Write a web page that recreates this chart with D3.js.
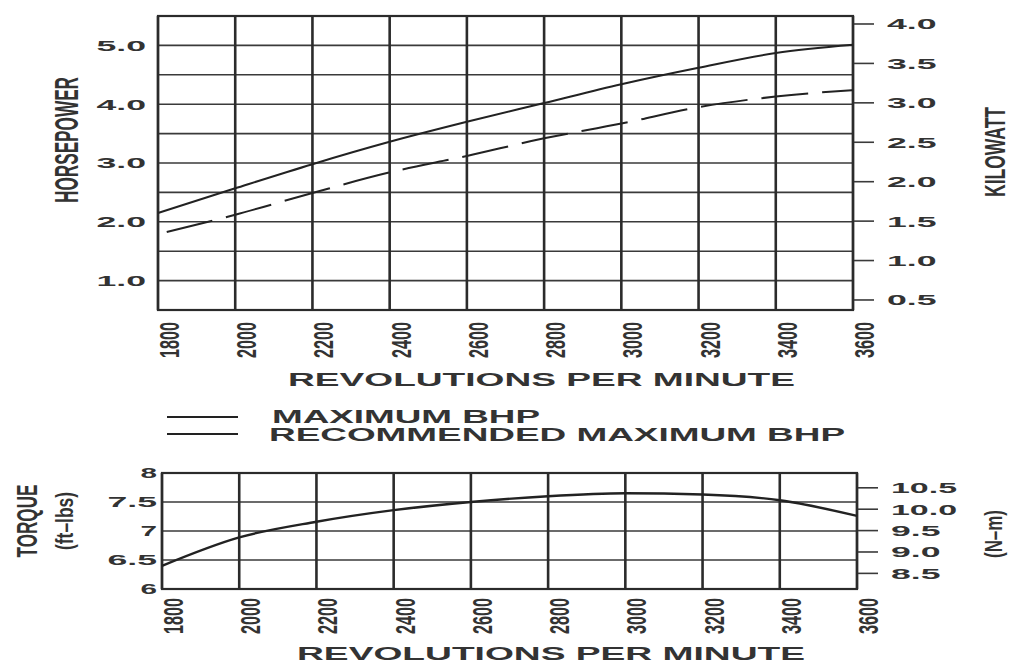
<!DOCTYPE html>
<html>
<head>
<meta charset="utf-8">
<script src="https://cdn.jsdelivr.net/npm/d3@7"></script>
<style>
    body { margin: 0; background: #fff; }
    svg { display: block; }
    text { font-family: "Liberation Sans", Arial, Helvetica, sans-serif; fill: #333; }
</style>
</head>
<body>
<svg id="chart" width="1015" height="664"></svg>
<script>
// values
const rpm = [1800, 2000, 2200, 2400, 2600, 2800, 3000, 3200, 3400, 3600]
const maxBhp = [2.15, 2.57, 2.98, 3.36, 3.70, 4.02, 4.34, 4.62, 4.87, 5.01]
const recBhp = [1.79, 2.12, 2.49, 2.84, 3.12, 3.42, 3.67, 3.95, 4.13, 4.24]
const torque = [6.40, 6.89, 7.16, 7.36, 7.50, 7.60, 7.65, 7.63, 7.53, 7.26]

const hpTicks = [1.0, 2.0, 3.0, 4.0, 5.0]
const hpGrid = [1.0, 1.5, 2.0, 2.5, 3.0, 3.5, 4.0, 4.5, 5.0]
const kwTicks = [0.5, 1.0, 1.5, 2.0, 2.5, 3.0, 3.5, 4.0]
const torqueTicks = [6, 6.5, 7, 7.5, 8]
const torqueGrid = [6.5, 7, 7.5]
const nmTicks = [8.5, 9.0, 9.5, 10.0, 10.5]
const legendLabels = ["MAXIMUM BHP", "RECOMMENDED MAXIMUM BHP"]

const KW_PER_HP = 0.7457
const NM_PER_FTLB = 1.3558

const ink = "#2b2b2b"
const svg = d3.select("#chart")

function drawPanel ({ x0, x1, y0, y1, yDomain, grid, leftTicks, leftFmt, leftRight,
                      rightTicks, rightToLeft, titleX, titleY, titleLen, labelTop }) {
    const x = d3.scaleLinear().domain([rpm[0], rpm[rpm.length - 1]]).range([x0, x1])
    const y = d3.scaleLinear().domain(yDomain).range([y1, y0])
    const g = svg.append("g")

    // horizontal grid
    g.selectAll(".hgrid").data(grid).enter().append("line")
        .attr("x1", x0).attr("x2", x1)
        .attr("y1", d => y(d)).attr("y2", d => y(d))
        .attr("stroke", "#3a3a3a").attr("stroke-width", 1.6)

    // vertical grid, heavier like the print
    g.selectAll(".vgrid").data(rpm).enter().append("line")
        .attr("x1", d => x(d)).attr("x2", d => x(d))
        .attr("y1", y0).attr("y2", y1)
        .attr("stroke", ink).attr("stroke-width", 2.6)

    g.append("rect")
        .attr("x", x0).attr("y", y0)
        .attr("width", x1 - x0).attr("height", y1 - y0)
        .attr("fill", "none").attr("stroke", ink).attr("stroke-width", 2.2)

    // left tick labels
    g.selectAll(".lt").data(leftTicks).enter().append("text")
        .attr("x", leftRight).attr("y", d => y(d))
        .attr("dy", "0.36em")
        .attr("text-anchor", "end")
        .style("font-size", "15px").style("font-weight", "bold")
        .attr("textLength", d => leftFmt(d).length * 16.5)
        .attr("lengthAdjust", "spacingAndGlyphs")
        .text(leftFmt)

    // right (metric) ticks and labels
    g.selectAll(".rtick").data(rightTicks).enter().append("line")
        .attr("x1", x1 + 1).attr("x2", x1 + 21)
        .attr("y1", d => y(rightToLeft(d))).attr("y2", d => y(rightToLeft(d)))
        .attr("stroke", "#3a3a3a").attr("stroke-width", 1.6)

    g.selectAll(".rt").data(rightTicks).enter().append("text")
        .attr("x", x1 + 34).attr("y", d => y(rightToLeft(d)))
        .attr("dy", "0.36em")
        .style("font-size", "15px").style("font-weight", "bold")
        .attr("textLength", d => d.toFixed(1).length * 16.5)
        .attr("lengthAdjust", "spacingAndGlyphs")
        .text(d => d.toFixed(1))

    // rotated rpm labels
    g.selectAll(".xt").data(rpm).enter().append("text")
        .attr("transform", d => "translate(" + (x(d) + 21) + "," + labelTop + ") rotate(-90)")
        .attr("text-anchor", "end")
        .style("font-size", "27px").style("font-weight", "bold")
        .attr("textLength", 36)
        .attr("lengthAdjust", "spacingAndGlyphs")
        .text(d => d)

    g.append("text")
        .attr("x", titleX).attr("y", titleY)
        .style("font-size", "18px").style("font-weight", "bold")
        .attr("textLength", titleLen)
        .attr("lengthAdjust", "spacingAndGlyphs")
        .text("REVOLUTIONS PER MINUTE")

    return { x, y, g }
}

function rotLabel (txt, cx, cy, size, len) {
    svg.append("text")
        .attr("transform", "translate(" + cx + "," + cy + ") rotate(-90)")
        .attr("text-anchor", "middle")
        .style("font-size", size + "px")
        .style("font-weight", "bold")
        .attr("textLength", len)
        .attr("lengthAdjust", "spacingAndGlyphs")
        .text(txt)
}

// --- power panel
const powerPanel = drawPanel({
    x0: 158, x1: 853, y0: 16, y1: 310,
    yDomain: [0.5, 5.5],
    grid: hpGrid,
    leftTicks: hpTicks, leftFmt: d => d.toFixed(1), leftRight: 146,
    rightTicks: kwTicks, rightToLeft: kw => kw / KW_PER_HP,
    titleX: 288, titleY: 386, titleLen: 507,
    labelTop: 322,
})

const line = (xs, ys) => d3.line()
    .x(d => xs(d[0]))
    .y(d => ys(d[1]))
    .curve(d3.curveMonotoneX)

powerPanel.g.append("path")
    .datum(d3.zip(rpm, maxBhp))
    .attr("d", line(powerPanel.x, powerPanel.y))
    .attr("fill", "none").attr("stroke", "#222").attr("stroke-width", 2)

powerPanel.g.append("path")
    .datum(d3.zip(rpm, recBhp))
    .attr("d", line(powerPanel.x, powerPanel.y))
    .attr("fill", "none").attr("stroke", "#222").attr("stroke-width", 2)
    .attr("stroke-dasharray", "47,14")
    .attr("stroke-dashoffset", 52)

rotLabel("HORSEPOWER", 78, 140, 33, 126)
rotLabel("KILOWATT", 1005, 152, 29, 90)

// --- legend (both keys are plain rules in the print)
const legend = svg.append("g")
legend.selectAll("line").data(legendLabels).enter().append("line")
    .attr("x1", 167).attr("x2", 238)
    .attr("y1", (d, i) => 417 + i * 17).attr("y2", (d, i) => 417 + i * 17)
    .attr("stroke", "#222").attr("stroke-width", 2)
legend.selectAll("text").data(legendLabels).enter().append("text")
    .attr("x", (d, i) => i ? 269 : 272)
    .attr("y", (d, i) => 423 + i * 18)
    .style("font-size", "18px").style("font-weight", "bold")
    .attr("textLength", (d, i) => i ? 576 : 268)
    .attr("lengthAdjust", "spacingAndGlyphs")
    .text(d => d)

// --- torque panel
const torquePanel = drawPanel({
    x0: 162, x1: 857, y0: 473, y1: 589,
    yDomain: [6, 8],
    grid: torqueGrid,
    leftTicks: torqueTicks, leftFmt: d => String(d), leftRight: 157,
    rightTicks: nmTicks, rightToLeft: nm => nm / NM_PER_FTLB,
    titleX: 297, titleY: 660, titleLen: 508,
    labelTop: 598,
})

torquePanel.g.append("path")
    .datum(d3.zip(rpm, torque))
    .attr("d", line(torquePanel.x, torquePanel.y))
    .attr("fill", "none").attr("stroke", "#222").attr("stroke-width", 2.4)

rotLabel("TORQUE", 37, 521, 29, 73)
rotLabel("(ft\u2013lbs)", 73, 521, 23, 58)
rotLabel("(N\u2013m)", 1002, 534, 23, 48)
</script>
</body>
</html>
